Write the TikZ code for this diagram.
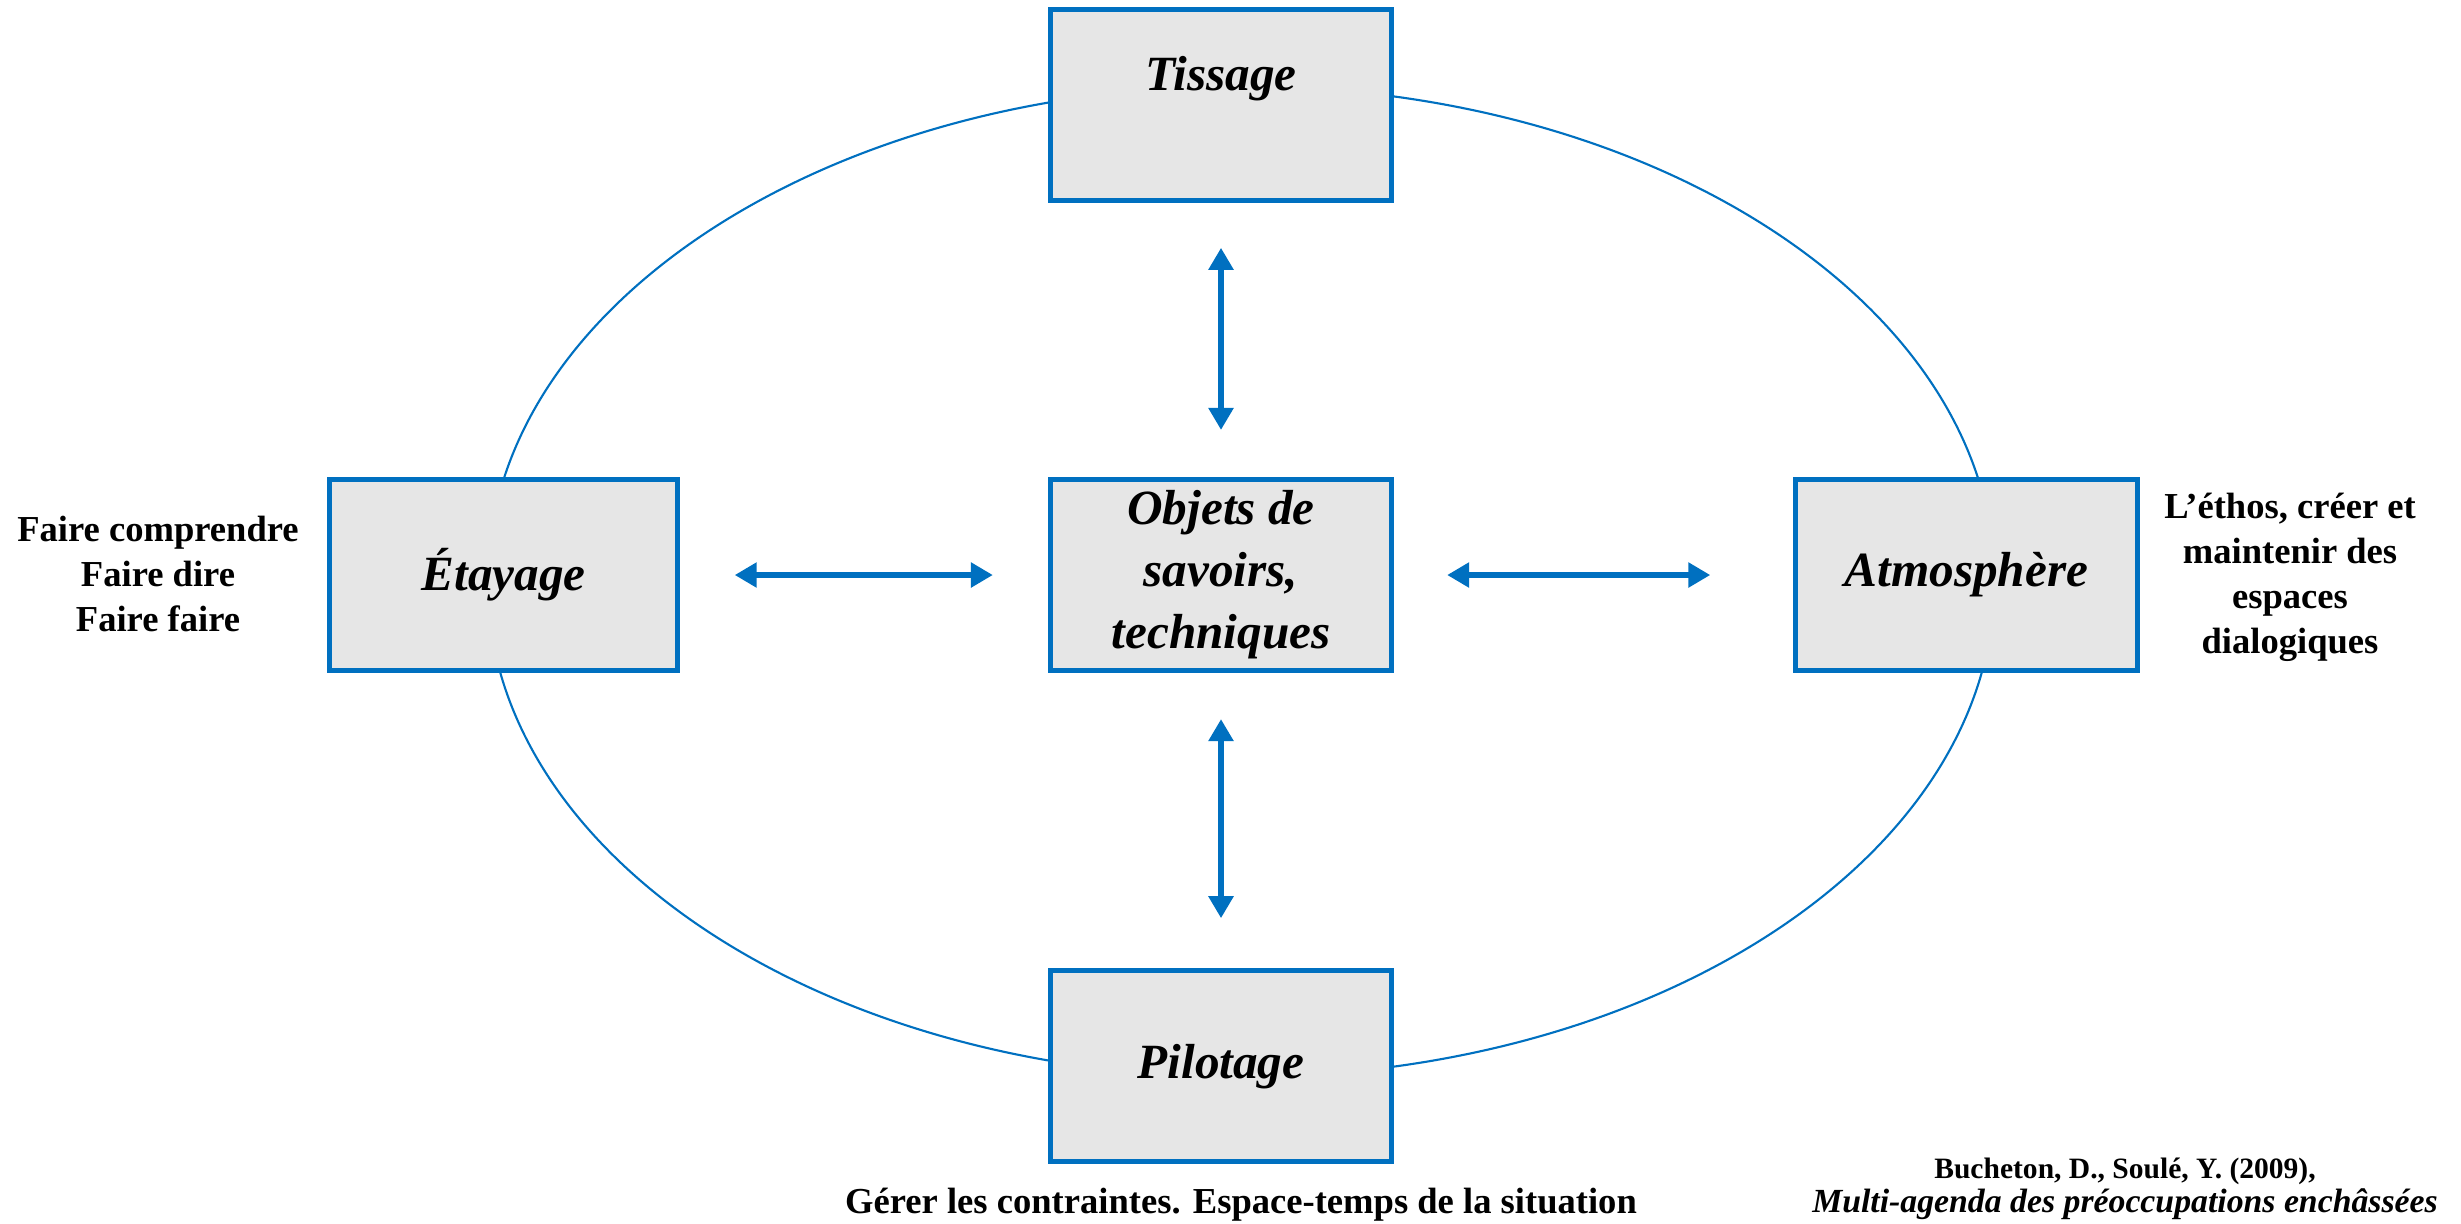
\documentclass[tikz,border=0pt]{standalone}
\usepackage{fontspec}
\setmainfont{Liberation Serif}
\usepackage{tikz}
\usetikzlibrary{arrows.meta,positioning}
\definecolor{bleu}{RGB}{0,112,192}
\definecolor{gris}{RGB}{230,230,230}
\tikzset{
    %Define standard arrow tip
    >={Triangle[width=0.24cm,length=0.22cm]},
    %Define style for boxes
    boite/.style={
           rectangle,
           draw=bleu, fill=gris, line width=0.05cm,
           minimum width=3.41cm,
           minimum height=1.91cm,
           inner sep=1pt,
           align=center,
           font=\fontsize{14}{17.6}\selectfont\bfseries\itshape},
    % Define arrow style
    fleche/.style={
           <->,
           draw=bleu,
           line width=0.06cm},
    % Define style for side notes
    note/.style={
           align=center,
           inner sep=0pt,
           font=\fontsize{10.4}{12.8}\selectfont\bfseries}
}

\begin{document}
\begin{tikzpicture}[x=0.01cm,y=0.01cm]
\useasboundingbox (0,0) rectangle (2461,-1223);

% ellipse behind the boxes
\draw[bleu, line width=0.6pt] (1241,-581.5) ellipse [x radius=7.53cm, y radius=4.95cm];

\node[boite] (obj) at (1221,-575) {Objets de\\savoirs,\\techniques};
\node[boite, above=2.74cm of obj] (tis) {Tissage\\~};
\node[boite, below=2.95cm of obj] (pil) {Pilotage};
\node[boite, left=3.68cm of obj, minimum width=3.47cm] (eta) {Étayage};
\node[boite, right=3.99cm of obj] (atm) {Atmosphère};

\draw[fleche, shorten <=0.47cm, shorten >=0.45cm] (obj) -- (tis);
\draw[fleche, shorten <=0.46cm, shorten >=0.50cm] (obj) -- (pil);
\draw[fleche, shorten <=0.55cm, shorten >=0.55cm] (obj) -- (eta);
\draw[fleche, shorten <=0.53cm, shorten >=0.83cm] (obj) -- (atm);

\node[note] (faire) at (158,-574) {Faire comprendre\\Faire dire\\Faire faire};
\node[note] (ethos) at (2290,-577) {L’éthos, créer et\\maintenir des\\espaces\\dialogiques};
\node[note, anchor=base] (gerer) at (1241,-1213) {Gérer les contraintes. Espace-temps de la situation};
\node[note, anchor=south, font=\fontsize{9.6}{9.6}\selectfont\bfseries] (source) at (2125,-1220)
  {{\fontsize{8.4}{9.6}\selectfont Bucheton, D., Soulé, Y. (2009),}\\\itshape Multi-agenda des préoccupations enchâssées};

\end{tikzpicture}
\end{document}
